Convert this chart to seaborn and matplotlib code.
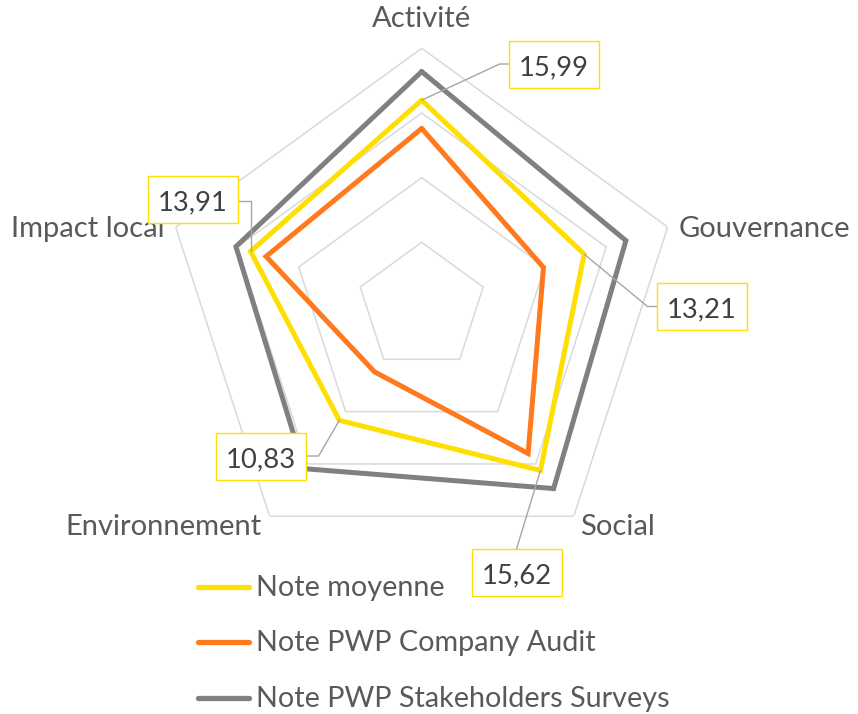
import numpy as np
import pandas as pd
import matplotlib
matplotlib.use("Agg")
import matplotlib.pyplot as plt
import seaborn as sns
from matplotlib.lines import Line2D
from matplotlib.patches import Rectangle

# ---------------- data ----------------
categories = ["Activité", "Gouvernance", "Social", "Environnement", "Impact local"]
series_names = ["Note moyenne", "Note PWP Company Audit", "Note PWP Stakeholders Surveys"]
note_moyenne = [15.99, 13.21, 15.62, 10.83, 13.91]
note_audit = [13.8, 9.9, 14.0, 6.2, 12.65]
note_surveys = [18.2, 16.6, 17.35, 15.45, 15.1]
value_labels = ["15,99", "13,21", "15,62", "10,83", "13,91"]
grid_levels = [5, 10, 15, 20]
r_max = 20

# ---------------- style ----------------
colors = ["#FFDF00", "#FF7A1F", "#808080"]
grid_color = "#D9D9D9"
text_color = "#595959"
value_color = "#404040"
box_color = "#FFE000"
leader_color = "#A6A6A6"

W, H, DPI = 858, 714, 100
sns.set_theme(style="white")
plt.rcParams["font.family"] = ["Lato", "DejaVu Sans"]

fig = plt.figure(figsize=(W / DPI, H / DPI), dpi=DPI)
fig.patch.set_facecolor("white")


def Y(y_ref):
    return H - y_ref


renderer = fig.canvas.get_renderer()


def fit_size(text, target_px, base=20):
    t = fig.text(0, 0, text, fontsize=base)
    w = t.get_window_extent(renderer).width
    t.remove()
    return base * target_px / w


cat_size = fit_size("Gouvernance", 172.0)
leg_size = fit_size("Note PWP Stakeholders Surveys", 413.0)
val_size = fit_size("15,99", 70.0)

# radar axes
cx, cy, R = 421.7, Y(307.0), 258.7
ax = fig.add_axes([(cx - R) / W, (cy - R) / H, 2 * R / W, 2 * R / H], projection="polar")
ax.set_theta_offset(np.pi / 2)
ax.set_theta_direction(-1)
ax.patch.set_alpha(0)

n = len(categories)
theta = np.arange(n) * 2 * np.pi / n
theta_c = np.append(theta, theta[0])

for lv in grid_levels:
    ax.plot(theta_c, [lv] * (n + 1), color=grid_color, lw=1.1, zorder=1)

rows = []
for name, vals in zip(series_names, [note_moyenne, note_audit, note_surveys]):
    for k, i in enumerate(list(range(n)) + [0]):
        rows.append({"serie": name, "theta": theta[i], "valeur": vals[i], "ordre": k})
df = pd.DataFrame(rows)

sns.lineplot(data=df, x="theta", y="valeur", hue="serie",
             palette=dict(zip(series_names, colors)), hue_order=series_names,
             sort=False, estimator=None, lw=3.6, legend=False, ax=ax,
             solid_joinstyle="miter", zorder=3)

ax.set_ylim(0, r_max)
ax.grid(False)
ax.set_xticks([])
ax.set_yticks([])
ax.set_xlabel("")
ax.set_ylabel("")
ax.spines["polar"].set_visible(False)

# category labels
cat_offsets = [(0, 21.6, "center"), (10.6, -9.6, "left"), (5.8, -18.7, "left"),
               (-8.0, -18.7, "right"), (-10.7, -9.6, "right")]
for i, cat in enumerate(categories):
    dx, dy, ha = cat_offsets[i]
    ax.annotate(cat, xy=(theta[i], r_max), xytext=(dx, dy), textcoords="offset pixels",
                ha=ha, va="baseline", fontsize=cat_size, color=text_color,
                annotation_clip=False)

fig.canvas.draw()

# value labels (boxes) for "Note moyenne"
box_w, box_h = 90, 47
box_centers = [(554.2, 64.0), (702.0, 306.5), (516.5, 572.5), (261.0, 456.0), (193.0, 199.5)]
leader_kind = ["left", "left", "top", "right", "right_vert"]
inv = fig.transFigure.inverted()


def add_line(pts):
    pts = np.array(pts)
    fpts = inv.transform(pts)
    fig.add_artist(Line2D(fpts[:, 0], fpts[:, 1], color=leader_color, lw=1.0,
                          transform=fig.transFigure, zorder=4))


for i in range(n):
    bx, by = box_centers[i]
    bx_m, by_m = bx, Y(by)
    vx, vy = ax.transData.transform((theta[i], note_moyenne[i]))
    kind = leader_kind[i]
    if kind == "left":
        edge = bx_m - box_w / 2
        add_line([(vx, vy), (edge - 9.5, by_m), (edge, by_m)])
    elif kind == "right":
        edge = bx_m + box_w / 2
        add_line([(vx, vy), (edge + 12.6, by_m), (edge, by_m)])
    elif kind == "top":
        add_line([(vx, vy), (bx_m, by_m + box_h / 2)])
    else:
        edge = bx_m + box_w / 2
        add_line([(edge, by_m - 1), (vx, by_m - 1), (vx, vy)])
    p0 = inv.transform((bx_m - box_w / 2, by_m - box_h / 2))
    p1 = inv.transform((bx_m + box_w / 2, by_m + box_h / 2))
    fig.add_artist(Rectangle(p0, p1[0] - p0[0], p1[1] - p0[1], transform=fig.transFigure,
                             facecolor="white", edgecolor=box_color, lw=1.0, zorder=5))
    fig.text(bx / W, Y(by + 11) / H, value_labels[i], ha="center", va="baseline",
             fontsize=val_size, color=value_color, zorder=6)

# legend
leg_rows = [586.8, 641.7, 697.6]
for name, col, yy in zip(series_names, colors, leg_rows):
    fig.add_artist(Line2D([198 / W, 249 / W], [Y(yy) / H, Y(yy) / H], color=col, lw=3.8,
                          solid_capstyle="round", transform=fig.transFigure))
    fig.text(255.5 / W, Y(yy + 9.5) / H, name, ha="left", va="baseline",
             fontsize=leg_size, color=text_color)

fig.savefig("out.png", dpi=DPI, facecolor="white")
